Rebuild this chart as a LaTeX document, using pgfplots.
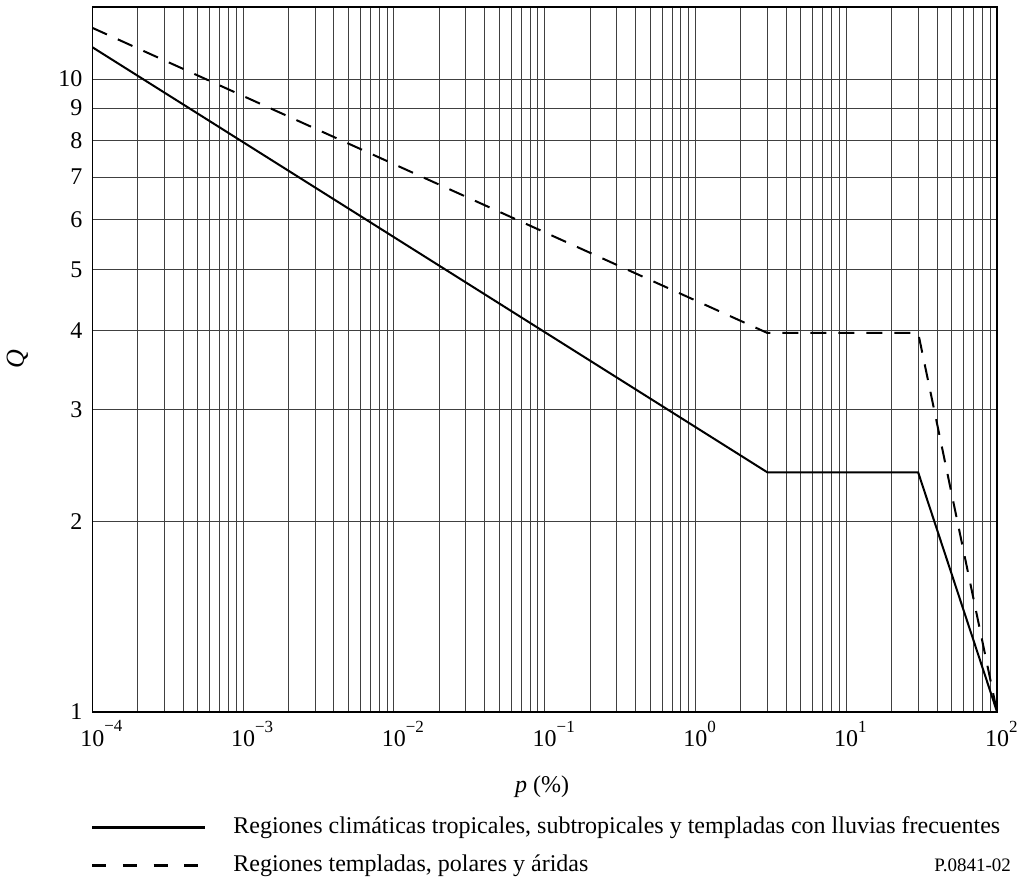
\documentclass[border=0pt]{standalone}
\usepackage{fontspec}
\setmainfont{Liberation Serif}
\usepackage{pgfplots}
\pgfplotsset{compat=1.18}
\newcommand{\dec}[1]{10\rlap{\raisebox{0.62em}{\fontsize{8.5}{9}\selectfont #1}}}

\begin{document}
\begin{tikzpicture}
  \begin{axis}[
      scale only axis,
      width=452.5pt, height=352.5pt,
      xmode=log, ymode=log,
      xmin=1e-4, xmax=1e2,
      ymin=1, ymax=13,
      xtick={1e-4,1e-3,1e-2,1e-1,1,1e1,1e2},
      xticklabels={\dec{−4},\dec{−3},\dec{−2},\dec{−1},\dec{0},\dec{1},\dec{2}},
      ytick={1,2,3,4,5,6,7,8,9,10},
      yticklabels={1,2,3,4,5,6,7,8,9,10},
      minor ytick={},
      xmajorgrids, xminorgrids, ymajorgrids,
      grid style={black!75, line width=0.45pt},
      minor grid style={black!75, line width=0.45pt},
      major tick length=0pt, minor tick length=0pt,
      axis line style={line width=0.8pt},
      tick label style={font=\fontsize{12}{14}\selectfont},
      xticklabel style={yshift=-1pt},
      yticklabel style={xshift=-1.5pt},
      clip=true,
    ]
    % tropicales, subtropicales y templadas con lluvias frecuentes
    \addplot[black, line width=1pt] coordinates {
      (1e-4, 11.23) (3, 2.39) (30, 2.39) (100, 1)
    };
    % templadas, polares y aridas
    \addplot[black, line width=1pt, dash pattern=on 8pt off 6pt] coordinates {
      (1e-4, 12.05) (3, 3.97) (30, 3.97) (100, 1)
    };
  \end{axis}

  % page frame (reference margins)
  \path (-46pt,-84.5pt) rectangle (465pt,356pt);

  \node[rotate=90, font=\fontsize{13}{15}\selectfont\itshape] at (-37.5pt,176.5pt) {Q};
  \node[font=\fontsize{12}{14}\selectfont] at (225pt,-37.5pt) {\textit{p} (\%)};

  \draw[black, line width=1.2pt] (0pt,-58pt) -- (56.5pt,-58pt);
  \node[anchor=west, font=\fontsize{12}{14}\selectfont] at (67pt,-58pt)
    {Regiones climáticas tropicales, subtropicales y templadas con lluvias frecuentes};
  \draw[black, line width=1.6pt, dash pattern=on 7pt off 8.33pt] (0pt,-77pt) -- (53pt,-77pt);
  \node[anchor=west, font=\fontsize{12}{14}\selectfont] at (67pt,-77pt)
    {Regiones templadas, polares y áridas};
  \node[anchor=east, font=\fontsize{9.5}{11}\selectfont] at (463pt,-77pt) {P.0841-02};
\end{tikzpicture}
\end{document}
